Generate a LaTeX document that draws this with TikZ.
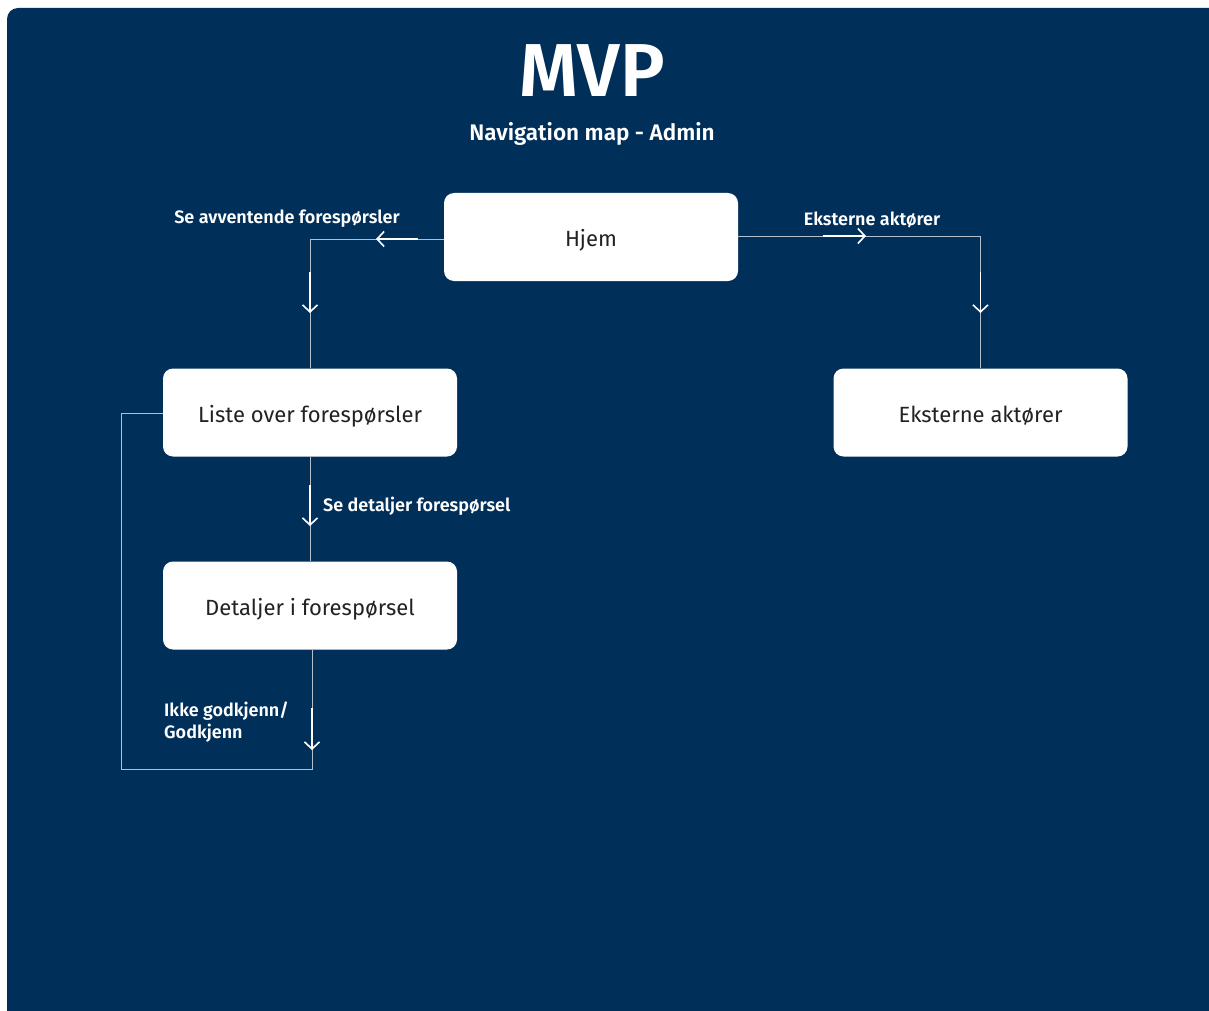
\documentclass[tikz,border=0pt]{standalone}
\usepackage{fontspec}
\setmainfont{Fira Sans}[BoldFont={Fira Sans SemiBold}]
\usetikzlibrary{arrows.meta,calc}
\definecolor{navy}{HTML}{002F5A}
\definecolor{wire}{HTML}{B4BFCC}
\definecolor{ink}{HTML}{222222}
\tikzset{
  screen/.style={draw=none, fill=white, rounded corners=10pt, minimum width=294pt,
    minimum height=88pt, text=ink, font=\fontsize{22}{26}\selectfont,
    text height=19pt, text depth=0pt},
  wireline/.style={draw=wire, line width=1pt},
  flowarrow/.style={draw=white, line width=1.6pt,
    -{Straight Barb[length=7pt,width=15pt,line width=1.6pt]}},
  edgelabel/.style={text=white, font=\bfseries\fontsize{18}{22}\selectfont, inner sep=0pt}
}
\begin{document}
\begin{tikzpicture}[x=1pt,y=-1pt]
\useasboundingbox (0,0) rectangle (1209,1011);
\fill[white] (0,0) rectangle (1209,1011);
\begin{scope}
  \clip (0,0) rectangle (1209,1011);
  \fill[navy, rounded corners=11pt] (7,8) rectangle (1222,1030);
\end{scope}

% heading
\node[text=white, font=\fontsize{75}{85}\selectfont\bfseries] (title) at (592,71) {MVP};
\node[text=white, font=\fontsize{22.5}{26}\selectfont\bfseries] (subtitle) at (592,134) {Navigation map - Admin};

% screens
\node[screen] (hjem) at (591,237) {Hjem};
\node[screen] (liste) at (310,412.5) {Liste over forespørsler};
\node[screen] (eks) at (980.5,412.5) {Eksterne aktører};
\node[screen] (det) at (310,605.5) {Detaljer i forespørsel};

% connectors
\coordinate (hl) at ([yshift=-2pt]hjem.west);
\coordinate (hr) at ([yshift=1pt]hjem.east);
\coordinate (ds) at ([xshift=2pt]det.south);
\coordinate (loopA) at (312,769);
\coordinate (loopB) at (121,769);
\coordinate (loopC) at (121,413);
\coordinate (lw) at (liste.west |- loopC);

\draw[wireline] (hl) -| (liste.north);
\draw[wireline] (hr) -| (eks.north);
\draw[wireline] (liste.south) -- (det.north);
\draw[wireline] (ds) -- (loopA) -- (loopB) -- (loopC) -- (lw);

% direction marks on the connectors
\draw[flowarrow] (418,239) -- (376,239);
\draw[flowarrow] (310,272) -- (310,313);
\draw[flowarrow] (823,236) -- (866,236);
\draw[flowarrow] (980.5,272) -- (980.5,313);
\draw[flowarrow] (310,485) -- (310,526);
\draw[flowarrow] (312,708) -- (312,750);

% connector labels
\node[edgelabel] (l1) at (287,219) {Se avventende forespørsler};
\node[edgelabel] (l2) at (872,220) {Eksterne aktører};
\node[edgelabel, anchor=west] (l3) at (323,506) {Se detaljer forespørsel};
\node[edgelabel, anchor=north west, align=left] (l4) at (164,702) {Ikke godkjenn/\\Godkjenn};
\end{tikzpicture}
\end{document}
